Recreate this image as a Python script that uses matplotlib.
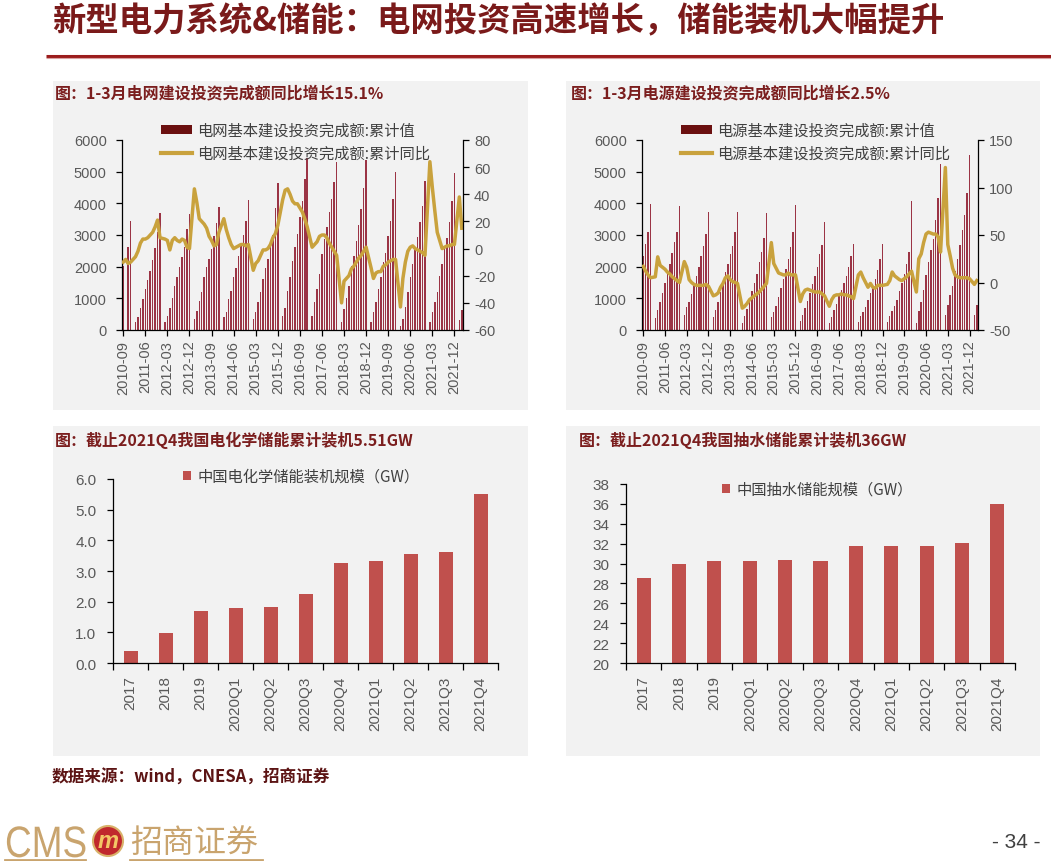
import numpy as np
import pandas as pd
import matplotlib
matplotlib.use("Agg")
import matplotlib.pyplot as plt
from matplotlib.patches import Rectangle, Circle, Patch, PathPatch
from matplotlib.lines import Line2D
from matplotlib.textpath import TextPath
from matplotlib.font_manager import FontProperties
from matplotlib.transforms import Affine2D

plt.rcParams['font.family'] = ['Liberation Sans', 'Noto Sans CJK SC', 'DejaVu Sans']
plt.rcParams['axes.unicode_minus'] = False

W, H = 1051, 862
CJK = ['Noto Sans CJK SC', 'DejaVu Sans']

# ---------------- data ----------------
months = pd.date_range("2010-09-01", "2022-03-01", freq="MS").strftime("%Y-%m").tolist()
month_ticks = ["2010-09", "2011-06", "2012-03", "2012-12", "2013-09", "2014-06",
               "2015-03", "2015-12", "2016-09", "2017-06", "2018-03", "2018-12",
               "2019-09", "2020-06", "2021-03", "2021-12"]

# 电网基本建设投资完成额:累计值 (亿元), 1月无数据
grid_cum = [
    2030, None, 2610, 3450,                                                    # 2010 9-12
    None, 240, 400, 680, 980, 1300, 1580, 1850, 2210, 2590, 3080, 3690,        # 2011
    None, 240, 450, 680, 1000, 1380, 1680, 1980, 2300, 2610, 3190, 3660,       # 2012
    None, 350, 590, 930, 1210, 1660, 1980, 2240, 2560, 2980, 3380, 3900,       # 2013
    None, 400, 560, 980, 1240, 1660, 1960, 2330, 2660, 3000, 3450, 4120,       # 2014
    None, 350, 560, 870, 1190, 1610, 1960, 2240, 2610, 3000, 3840, 4640,       # 2015
    None, 450, 700, 1240, 1660, 2190, 2610, 3030, 3560, 4080, 4770, 5430,      # 2016
    None, 450, 870, 1300, 1770, 2400, 2870, 3240, 3740, 4140, 4660, 5320,      # 2017
    None, 260, 660, 1000, 1400, 2030, 2350, 2820, 3320, 3820, 4500, 5370,      # 2018
    None, 240, 560, 870, 1300, 1660, 2140, 2420, 2960, 3450, 4140, 4990,       # 2019
    None, 140, 350, 720, 1210, 1680, 2080, 2560, 2930, 3400, 3930, 4700,       # 2020
    None, 260, 560, 870, 1210, 1720, 2080, 2560, 2890, 3420, 4080, 4950,       # 2021
    None, 330, 630,                                                            # 2022 1-3
]
# 电网基本建设投资完成额:累计同比 (%)
grid_yoy = [
    -10, -8, -11, -10,
    None, -6, -2, 4, 7, 7, 8, 10, 12, 16, 21, 8,
    None, 7, 6, -1, 6, 8, 6, 5, 7, 6, 1, 0,
    None, 44, 34, 22, 20, 18, 15, 9, 6, 2, 3, 12,
    None, 22, 14, 8, 3, 0, 1, 2, 3, 3, 2, 3,
    None, -16, -11, -9, -5, -1, -1, 0, 3, 8, 11, 17,
    None, 36, 43, 44, 40, 35, 33, 33, 30, 27, 22, 16,
    None, 1, 3, 5, 9, 10, 10, 8, 4, 1, -2, -5,
    None, -40, -24, -22, -20, -15, -13, -10, -7, -5, -2, 1,
    None, -14, -22, -18, -17, -17, -13, -12, -10, -9, -8, -8,
    None, -43, -22, -10, -2, 1, 2, 0, -1, -2, -3, -5,
    None, 64, 45, 28, 12, 6, 0, 1, 2, 2, 3, 3,
    None, 38, 15,
]

# 电源基本建设投资完成额:累计值 (亿元)
power_cum = [
    2330, 2720, 3080, 3980,
    None, 380, 630, 870, 1170, 1500, 1800, 2100, 2430, 2770, 3080, 3930,
    None, 470, 720, 890, 1140, 1420, 1720, 1980, 2350, 2660, 3030, 3740,
    None, 400, 620, 870, 1190, 1500, 1820, 2080, 2400, 2660, 3080, 3720,
    None, 210, 450, 660, 960, 1240, 1480, 1780, 2140, 2450, 2900, 3700,
    None, 400, 560, 770, 1030, 1320, 1610, 1930, 2240, 2610, 3080, 3950,
    None, 300, 480, 700, 920, 1180, 1450, 1720, 1980, 2400, 2690, 3410,
    None, 230, 400, 620, 820, 1060, 1260, 1470, 1720, 1990, 2330, 2710,
    None, 260, 430, 560, 740, 950, 1180, 1380, 1600, 1900, 2250, 2720,
    None, 260, 450, 610, 770, 960, 1240, 1500, 1770, 2080, 2450, 4080,
    None, 220, 600, 880, 1250, 1740, 2150, 2530, 2870, 3460, 4160, 5250,
    None, 480, 780, 1100, 1380, 1850, 2230, 2700, 3150, 3620, 4330, 5530,
    None, 470, 800,
]
# 电源基本建设投资完成额:累计同比 (%)
power_yoy = [
    17, 12, 8, 5,
    None, 6, 27, 18, 16, 14, 11, 9, 6, 4, 2, 0,
    None, 22, 16, 3, 0, -2, -3, -3, -3, -3, -2, -4,
    None, -14, -13, -11, -5, -1, 5, 7, 3, 1, 0, -1,
    None, -27, -25, -22, -18, -16, -14, -12, -10, -7, -4, -1,
    None, 42, 20, 15, 10, 9, 8, 8, 10, 8, 8, 8,
    None, -20, -12, -8, -7, -8, -9, -10, -10, -10, -12, -14,
    None, -25, -18, -14, -13, -13, -12, -13, -13, -14, -15, -17,
    None, 8, 11, 5, 0, -5, -1, -5, -6, -3, -3, -3,
    None, -2, 2, 11, 7, 5, 3, 2, 4, 6, 9, 12,
    None, -10, 25, 30, 42, 51, 53, 52, 51, 51, 48, 32,
    None, 121, 40, 28, 15, 8, 6, 5, 5, 5, 5, 4,
    None, -2, 2,
]

quarters = ["2017", "2018", "2019", "2020Q1", "2020Q2", "2020Q3", "2020Q4",
            "2021Q1", "2021Q2", "2021Q3", "2021Q4"]
echem_gw = [0.38, 0.99, 1.70, 1.78, 1.83, 2.25, 3.26, 3.32, 3.55, 3.63, 5.51]
pumped_gw = [28.56, 29.93, 30.27, 30.29, 30.33, 30.30, 31.77, 31.80, 31.77, 32.04, 36.0]

# ---------------- styles ----------------
BAR_DARK = '#9b3445'
LEG_DARK = '#6b1010'
GOLD = '#c9a23d'
RED = '#c0504d'
TITLE_RED = '#7b1e1e'
TICK_GRAY = '#595959'
PANEL = '#f2f2f2'
TAN = '#c9a46e'

fig = plt.figure(figsize=(W / 100, H / 100), dpi=100)
fig.patch.set_facecolor('white')

bg = fig.add_axes([0, 0, 1, 1])
bg.set_xlim(0, W)
bg.set_ylim(H, 0)
bg.axis('off')


def px_axes(l, t, r, b):
    return fig.add_axes([l / W, 1 - b / H, (r - l) / W, (b - t) / H])


# page title + rule
bg.text(52, 22, "新型电力系统&储能：电网投资高速增长，储能装机大幅提升", family=CJK,
        fontsize=24, fontweight='bold', color='#7a1a1a', va='center', ha='left')
bg.plot([46, W], [57, 57], color='#9b1c1c', lw=2.2, solid_capstyle='butt')
bg.plot([46, W], [59, 59], color='#d9a0a0', lw=0.8, solid_capstyle='butt')

# panels
for (l, t, r, b) in [(53, 82, 528, 411), (566, 82, 1040, 411),
                     (53, 427, 528, 757), (566, 427, 1040, 757)]:
    bg.add_patch(Rectangle((l, t), r - l, b - t, facecolor=PANEL, edgecolor='none'))

panel_titles = [
    (55, 93, "图：1-3月电网建设投资完成额同比增长15.1%"),
    (571, 93, "图：1-3月电源建设投资完成额同比增长2.5%"),
    (55, 440, "图：截止2021Q4我国电化学储能累计装机5.51GW"),
    (579, 440, "图：截止2021Q4我国抽水储能累计装机36GW"),
]
for x0, y0, s in panel_titles:
    bg.text(x0, y0, s, family=CJK, fontsize=11.5, fontweight='bold',
            color=TITLE_RED, va='center', ha='left')


def style_spines(ax, show):
    for side in ['left', 'right', 'top', 'bottom']:
        ax.spines[side].set_visible(side in show)
        ax.spines[side].set_color('black')
        ax.spines[side].set_linewidth(0.9)


def month_chart(rect, cum, yoy, ylim2, yticks2, legend_x, bar_label, line_label):
    ax = px_axes(*rect)
    ax.patch.set_visible(False)
    x = np.arange(len(months))
    c = np.array(cum, dtype=float)
    okc = ~np.isnan(c)
    ax.bar(x[okc], c[okc], width=0.6, color=BAR_DARK, linewidth=0)
    ax.set_xlim(-0.5, len(months) - 0.5)
    ax.set_ylim(0, 6000)
    ax.set_yticks(range(0, 6001, 1000))
    ax.set_xticks([months.index(m) for m in month_ticks])
    ax.set_xticklabels(month_ticks, rotation=90)
    style_spines(ax, ['left', 'bottom'])
    ax.tick_params(axis='y', direction='out', length=4, width=0.9, pad=7,
                   labelsize=10.5, labelcolor=TICK_GRAY)
    ax.tick_params(axis='x', direction='out', length=4, width=0.9, pad=3,
                   labelsize=10.5, labelcolor=TICK_GRAY)

    ax2 = ax.twinx()
    v = np.array(yoy, dtype=float)
    okv = ~np.isnan(v)
    ax2.plot(x[okv], v[okv], color=GOLD, lw=2.5, solid_joinstyle='round')
    ax2.set_ylim(*ylim2)
    ax2.set_yticks(yticks2)
    style_spines(ax2, ['right'])
    ax2.tick_params(axis='y', direction='out', length=4, width=0.9, pad=4,
                    labelsize=10.5, labelcolor=TICK_GRAY)

    handles = [Patch(facecolor=LEG_DARK, edgecolor='none'),
               Line2D([], [], color=GOLD, lw=3)]
    ax2.legend(handles, [bar_label, line_label], loc='upper left',
               bbox_to_anchor=(legend_x, 123), bbox_transform=bg.transData,
               frameon=False, borderpad=0, borderaxespad=0, handlelength=2.0,
               handleheight=0.5, handletextpad=0.35, labelspacing=0.4,
               prop={'family': CJK, 'size': 11}, labelcolor='#404040')


month_chart((122, 141, 463, 331), grid_cum, grid_yoy, (-60, 80), range(-60, 81, 20),
            161, "电网基本建设投资完成额:累计值", "电网基本建设投资完成额:累计同比")
month_chart((642, 141, 978, 331), power_cum, power_yoy, (-50, 150), range(-50, 151, 50),
            681, "电源基本建设投资完成额:累计值", "电源基本建设投资完成额:累计同比")


def bar_chart(rect, vals, ylim, yticks, fmt, legend_xy, label):
    ax = px_axes(*rect)
    ax.patch.set_visible(False)
    x = np.arange(len(quarters))
    ax.bar(x, vals, width=0.4, color=RED, linewidth=0)
    ax.set_xlim(-0.5, len(quarters) - 0.5)
    ax.set_ylim(*ylim)
    ax.set_yticks(yticks)
    ax.set_yticklabels([fmt.format(t) for t in yticks])
    ax.set_xticks(np.arange(-0.5, len(quarters), 1.0))
    ax.set_xticklabels([])
    ax.set_xticks(x, minor=True)
    ax.set_xticklabels(quarters, minor=True, rotation=90)
    style_spines(ax, ['left', 'bottom'])
    ax.tick_params(axis='y', direction='out', length=4, width=0.9, pad=8,
                   labelsize=11, labelcolor=TICK_GRAY)
    ax.tick_params(axis='x', which='major', direction='out', length=5, width=0.9)
    ax.tick_params(axis='x', which='minor', length=0, pad=9,
                   labelsize=11, labelcolor=TICK_GRAY)
    ax.legend([Patch(facecolor=RED, edgecolor='none')], [label], loc='upper left',
              bbox_to_anchor=legend_xy, bbox_transform=bg.transData,
              frameon=False, borderpad=0, borderaxespad=0, handlelength=0.55,
              handleheight=0.55, handletextpad=0.4,
              prop={'family': CJK, 'size': 11}, labelcolor='#404040')


bar_chart((113, 480, 498, 664), echem_gw, (0, 6), np.arange(0, 6.01, 1.0), "{:.1f}",
          (183, 469), "中国电化学储能装机规模（GW）")
bar_chart((626, 485, 1015, 664), pumped_gw, (20, 38), list(range(20, 39, 2)), "{:d}",
          (722, 482), "中国抽水储能规模（GW）")

# footer
bg.text(52, 778, "数据来源：wind，CNESA，招商证券", family=CJK, fontsize=12,
        fontweight='bold', color='#5c1414', va='center', ha='left')

# logo: narrow "CMS" drawn as a horizontally squeezed text path
cms = TextPath((0, 0), "CMS", size=44, prop=FontProperties(family='Liberation Sans'))
bg.add_patch(PathPatch(cms, facecolor=TAN, edgecolor='none',
                       transform=Affine2D().scale(0.84, -1).translate(5, 858) + bg.transData))
bg.add_patch(Circle((108, 842), 15, facecolor='#c0282d', edgecolor='#d9b26a', lw=1.5))
bg.text(108, 842, "m", fontsize=17, fontweight='bold', style='italic', color='#f3c766',
        va='center', ha='center')
bg.text(130, 843, "招商证券", family=CJK, fontsize=23, color=TAN,
        va='center', ha='left')
bg.plot([5, 85], [861, 861], color=TAN, lw=2)
bg.plot([130, 262], [861, 861], color=TAN, lw=2)
bg.text(1040, 843, "- 34 -", fontsize=15, color='#404040', va='center', ha='right')

fig.savefig("out.png", dpi=100)
